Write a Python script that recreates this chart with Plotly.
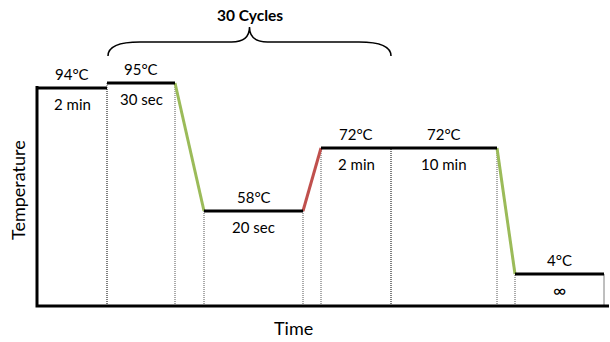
import plotly.graph_objects as go

# PCR protocol (schematic time / level units)
temps = ["94°C", "95°C", "58°C", "72°C", "72°C", "4°C"]
durations = ["2 min", "30 sec", "20 sec", "2 min", "10 min", "∞"]
hold_start = [0, 70, 167, 284, 354, 478]
hold_end = [70, 138, 266, 354, 460, 567]
hold_level = [218, 223, 95, 158, 158, 32]
ramp_from = [1, 2, 4]
ramp_color = ["#9BBB59", "#C0504D", "#9BBB59"]
cycle_first, cycle_last = 1, 3
cycle_label = "30 Cycles"
x_title, y_title = "Time", "Temperature"
x_axis_end = 572
y_axis_top = 220

FONT = "Lato, Open Sans, sans-serif"
fig = go.Figure()

# dotted guides
for i in range(len(temps)):
    for j, xv in enumerate([hold_start[i], hold_end[i]]):
        if xv == 0:
            continue
        last_edge = (i == len(temps) - 1 and j == 1)
        fig.add_trace(go.Scatter(
            x=[xv, xv], y=[0, hold_level[i]], mode="lines",
            line=dict(color="#555555" if not last_edge else "#7f7f7f",
                      width=1, dash="solid" if last_edge else "1px,1px"),
            hoverinfo="skip"))

# ramps
for k, i in enumerate(ramp_from):
    fig.add_trace(go.Scatter(
        x=[hold_end[i], hold_start[i + 1]], y=[hold_level[i], hold_level[i + 1]],
        mode="lines", line=dict(color=ramp_color[k], width=3), hoverinfo="skip"))

# holds
for i in range(len(temps)):
    fig.add_trace(go.Scatter(
        x=[hold_start[i], hold_end[i]], y=[hold_level[i], hold_level[i]],
        mode="lines", line=dict(color="black", width=3.2), hoverinfo="skip"))

# axes
fig.add_trace(go.Scatter(x=[0, 0, x_axis_end], y=[y_axis_top, 0, 0], mode="lines",
                         line=dict(color="black", width=3), hoverinfo="skip"))

ann = []
for i in range(len(temps)):
    cx = (hold_start[i] + hold_end[i]) / 2
    ann.append(dict(x=cx, y=hold_level[i], text=temps[i], showarrow=False,
                    yshift=14, font=dict(size=15, color="black", family=FONT)))
    ann.append(dict(x=cx, y=hold_level[i], text=durations[i], showarrow=False,
                    yshift=-16, font=dict(size=15 if durations[i] != "∞" else 18,
                                          color="black", family=FONT)))

# brace over cycling steps
x0 = hold_start[cycle_first] + 1
x1 = hold_end[cycle_last]
xm = (x0 + x1) / 2
yb, yh, yt = 250, 264, 279
r = 32
r2 = 18
path = (f"M {x0},{yb} Q {x0},{yh} {x0 + r},{yh} L {xm - r2},{yh} "
        f"Q {xm},{yh} {xm},{yt} Q {xm},{yh} {xm + r2},{yh} "
        f"L {x1 - r},{yh} Q {x1},{yh} {x1},{yb}")
fig.add_shape(type="path", path=path, xref="x", yref="y",
              line=dict(color="black", width=1.5))
ann.append(dict(x=xm, y=yt, text=f"<b>{cycle_label}</b>", showarrow=False,
                yshift=12, font=dict(size=15.5, color="black", family=FONT)))

ann.append(dict(x=-19, y=116, text=y_title, textangle=-90, showarrow=False,
                font=dict(size=18, color="black", family=FONT)))
ann.append(dict(x=256, y=-22, text=x_title, showarrow=False,
                font=dict(size=18, color="black", family=FONT)))

fig.update_layout(
    width=610, height=342, margin=dict(l=0, r=0, t=0, b=0),
    paper_bgcolor="white", plot_bgcolor="white", showlegend=False,
    xaxis=dict(range=[-37, 573], visible=False, fixedrange=True),
    yaxis=dict(range=[-36, 306], visible=False, fixedrange=True),
    annotations=ann,
)
fig.write_html("out.html")
